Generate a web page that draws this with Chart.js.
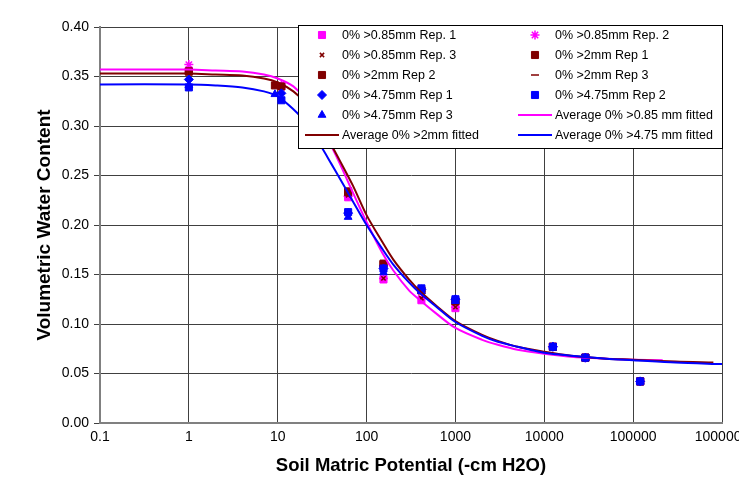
<!DOCTYPE html>
<html>
<head>
<meta charset="utf-8">
<title>Soil water retention</title>
<script src="https://cdn.jsdelivr.net/npm/chart.js@4.4.1/dist/chart.umd.min.js"></script>
<style>
  html, body { margin: 0; padding: 0; background: #fff; overflow: hidden; }
  #wrap { position: relative; width: 739px; height: 479px; }
</style>
</head>
<body>
<div id="wrap"><canvas id="retentionChart"></canvas></div>
<script>
// x axis decades (-cm H2O)
const xTicks = [0.1, 1, 10, 100, 1000, 10000, 100000, 1000000];

// measured suctions; "A" and "B" differ only at the ~10 cm step
const suctionA = [1, 9.3, 62, 155, 414, 1000, 12500, 29000, 120000];
const suctionB = [1, 11, 62, 155, 414, 1000, 12500, 29000, 120000];

// volumetric water content per replicate
const rep085_1 = [0.356, 0.340, 0.228, 0.145, 0.124, 0.116, 0.077, 0.066, 0.042];
const rep085_2 = [0.362, 0.341, 0.229, 0.146, 0.126, 0.117, 0.077, 0.066, 0.042];
const rep085_3 = [0.356, 0.340, 0.230, 0.146, 0.126, 0.117, 0.077, 0.066, 0.042];
const rep2_1 = [0.355, 0.341, 0.234, 0.161, 0.134, 0.123, 0.077, 0.066, 0.042];
const rep2_2 = [0.355, 0.340, 0.233, 0.160, 0.134, 0.123, 0.077, 0.066, 0.042];
const rep2_3 = [0.354, 0.339, 0.232, 0.159, 0.133, 0.122, 0.077, 0.066, 0.042];
const rep475_1 = [0.347, 0.333, 0.212, 0.156, 0.135, 0.125, 0.077, 0.066, 0.042];
const rep475_2 = [0.339, 0.326, 0.213, 0.156, 0.136, 0.125, 0.077, 0.066, 0.042];
const rep475_3 = [0.341, 0.332, 0.208, 0.152, 0.133, 0.123, 0.077, 0.066, 0.042];

// fitted curves
const fit085X = [0.1, 1, 2, 4, 7, 10, 15, 20, 30, 40, 50, 70, 100, 150, 200, 300, 400, 600, 1000, 2000, 3000, 5000, 10000, 20000, 50000, 100000, 215000];
const fit085Y = [0.357, 0.357, 0.356, 0.355, 0.352, 0.348, 0.340, 0.328, 0.302, 0.280, 0.262, 0.233, 0.203, 0.172, 0.154, 0.134, 0.124, 0.111, 0.096, 0.084, 0.079, 0.074, 0.070, 0.067, 0.065, 0.064, 0.0635];
const fit2X = [0.1, 1, 2, 4, 7, 10, 15, 20, 30, 40, 50, 70, 100, 150, 200, 300, 400, 600, 1000, 2000, 3000, 5000, 10000, 20000, 50000, 100000, 300000, 800000];
const fit2Y = [0.353, 0.353, 0.352, 0.351, 0.348, 0.344, 0.335, 0.324, 0.300, 0.281, 0.265, 0.240, 0.210, 0.183, 0.165, 0.145, 0.133, 0.119, 0.103, 0.089, 0.083, 0.077, 0.072, 0.068, 0.065, 0.064, 0.062, 0.061];
const fit475X = [0.1, 1, 2, 4, 7, 10, 15, 20, 30, 40, 50, 70, 100, 150, 200, 300, 400, 600, 1000, 2000, 3000, 5000, 10000, 20000, 50000, 100000, 300000, 1000000];
const fit475Y = [0.342, 0.342, 0.341, 0.339, 0.335, 0.330, 0.317, 0.305, 0.281, 0.262, 0.247, 0.224, 0.200, 0.176, 0.160, 0.142, 0.131, 0.118, 0.102, 0.088, 0.082, 0.077, 0.071, 0.068, 0.065, 0.0635, 0.061, 0.0595];

const PINK = '#ff00ff', MAROON = '#800000', BLUE = '#0000ff';
const FONT = "'Liberation Sans', Arial, sans-serif";

const pairs = (xs, ys) => xs.map((x, i) => ({ x: x, y: ys[i] }));

function marks(label, xs, ys, color, style, radius) {
    const cross = style === 'star' || style === 'crossRot' || style === 'line';
    return {
        label: label,
        data: pairs(xs, ys),
        showLine: false,
        pointStyle: style,
        pointRadius: radius,
        pointHoverRadius: radius,
        pointBackgroundColor: color,
        pointBorderColor: color,
        pointBorderWidth: cross ? 1.5 : 1,
        backgroundColor: color,
        borderColor: color
    };
}

function fitted(label, xs, ys, color) {
    return {
        label: label,
        data: pairs(xs, ys),
        showLine: true,
        borderColor: color,
        backgroundColor: color,
        borderWidth: 2,
        pointRadius: 0,
        tension: 0.3
    };
}

// legend box drawn inside the plot, two columns like the original
const boxLegend = {
    id: 'boxLegend',
    afterDraw(chart) {
        const c = chart.ctx;
        c.save();
        c.fillStyle = '#fff';
        c.strokeStyle = '#000';
        c.lineWidth = 1;
        c.fillRect(298.5, 25.5, 424, 123);
        c.strokeRect(298.5, 25.5, 424, 123);
        c.font = '12.5px ' + FONT;
        c.textBaseline = 'middle';
        chart.data.datasets.forEach((ds, i) => {
            const col = i % 2;
            const y = 35 + Math.floor(i / 2) * 20;
            const tx = col ? 555 : 342;
            const mx = tx - 20;
            if (ds.showLine) {
                c.strokeStyle = ds.borderColor;
                c.lineWidth = 2;
                c.beginPath();
                c.moveTo(mx - 17, y);
                c.lineTo(mx + 17, y);
                c.stroke();
            } else {
                c.fillStyle = ds.pointBackgroundColor;
                c.strokeStyle = ds.pointBorderColor;
                c.lineWidth = ds.pointBorderWidth;
                Chart.helpers.drawPoint(c, {
                    pointStyle: ds.pointStyle,
                    radius: ds.pointRadius,
                    rotation: 0,
                    borderWidth: ds.pointBorderWidth
                }, mx, y);
            }
            c.fillStyle = '#000';
            c.fillText(ds.label, tx, y + 0.5);
        });
        c.restore();
    }
};

document.addEventListener('DOMContentLoaded', function () {
    Chart.defaults.font.family = FONT;
    Chart.defaults.color = '#000';

    const datasets = [
        marks('0% >0.85mm Rep. 1', suctionB, rep085_1, PINK, 'rect', 5),
        marks('0% >0.85mm Rep. 2', suctionB, rep085_2, PINK, 'star', 4.5),
        marks('0% >0.85mm Rep. 3', suctionB, rep085_3, MAROON, 'crossRot', 3),
        marks('0% >2mm Rep 1', suctionA, rep2_1, MAROON, 'rect', 5),
        marks('0% >2mm Rep 2', suctionB, rep2_2, MAROON, 'rect', 5),
        marks('0% >2mm Rep 3', suctionB, rep2_3, MAROON, 'line', 4),
        marks('0% >4.75mm Rep 1', suctionB, rep475_1, BLUE, 'rectRot', 4.5),
        marks('0% >4.75mm Rep 2', suctionB, rep475_2, BLUE, 'rect', 5),
        marks('0% >4.75mm Rep 3', suctionA, rep475_3, BLUE, 'triangle', 4.5),
        fitted('Average 0% >0.85 mm fitted', fit085X, fit085Y, PINK),
        fitted('Average 0% >2mm fitted', fit2X, fit2Y, MAROON),
        fitted('Average 0% >4.75 mm fitted', fit475X, fit475Y, BLUE)
    ];
    // later series on top, as in the spreadsheet original
    datasets.forEach((ds, i) => { ds.order = datasets.length - i; });

    const ctx = document.getElementById('retentionChart').getContext('2d');
    new Chart(ctx, {
        type: 'scatter',
        data: { datasets: datasets },
        options: {
            responsive: true,
            maintainAspectRatio: false,
            animation: false,
            layout: { padding: { top: 27, right: 17, left: 0, bottom: 0 } },
            plugins: {
                legend: { display: false },
                tooltip: { enabled: false }
            },
            scales: {
                x: {
                    type: 'logarithmic',
                    min: 0.1,
                    max: 1000000,
                    afterBuildTicks: (s) => { s.ticks = xTicks.map(v => ({ value: v })); },
                    afterFit: (s) => { s.height = 56; s.paddingLeft = 0; s.paddingRight = 0; },
                    ticks: {
                        font: { size: 14 },
                        padding: 6,
                        maxRotation: 0,
                        autoSkip: false,
                        callback: (v) => String(v)
                    },
                    grid: { color: '#404040', lineWidth: 1, drawTicks: false },
                    border: { color: '#808080', width: 2 },
                    title: {
                        display: true,
                        text: 'Soil Matric Potential (-cm H2O)',
                        font: { size: 18.5, weight: 'bold' },
                        padding: { top: 0, bottom: 2 }
                    }
                },
                y: {
                    min: 0,
                    max: 0.4,
                    afterFit: (s) => { s.width = 100; },
                    ticks: {
                        stepSize: 0.05,
                        font: { size: 14 },
                        padding: 5,
                        callback: (v) => v.toFixed(2)
                    },
                    grid: { color: '#404040', lineWidth: 1, tickLength: 6 },
                    border: { color: '#808080', width: 2 },
                    title: {
                        display: true,
                        text: 'Volumetric Water Content',
                        font: { size: 19, weight: 'bold' },
                        padding: { top: 33, bottom: 0 }
                    }
                }
            }
        },
        plugins: [boxLegend]
    });
});
</script>
</body>
</html>
